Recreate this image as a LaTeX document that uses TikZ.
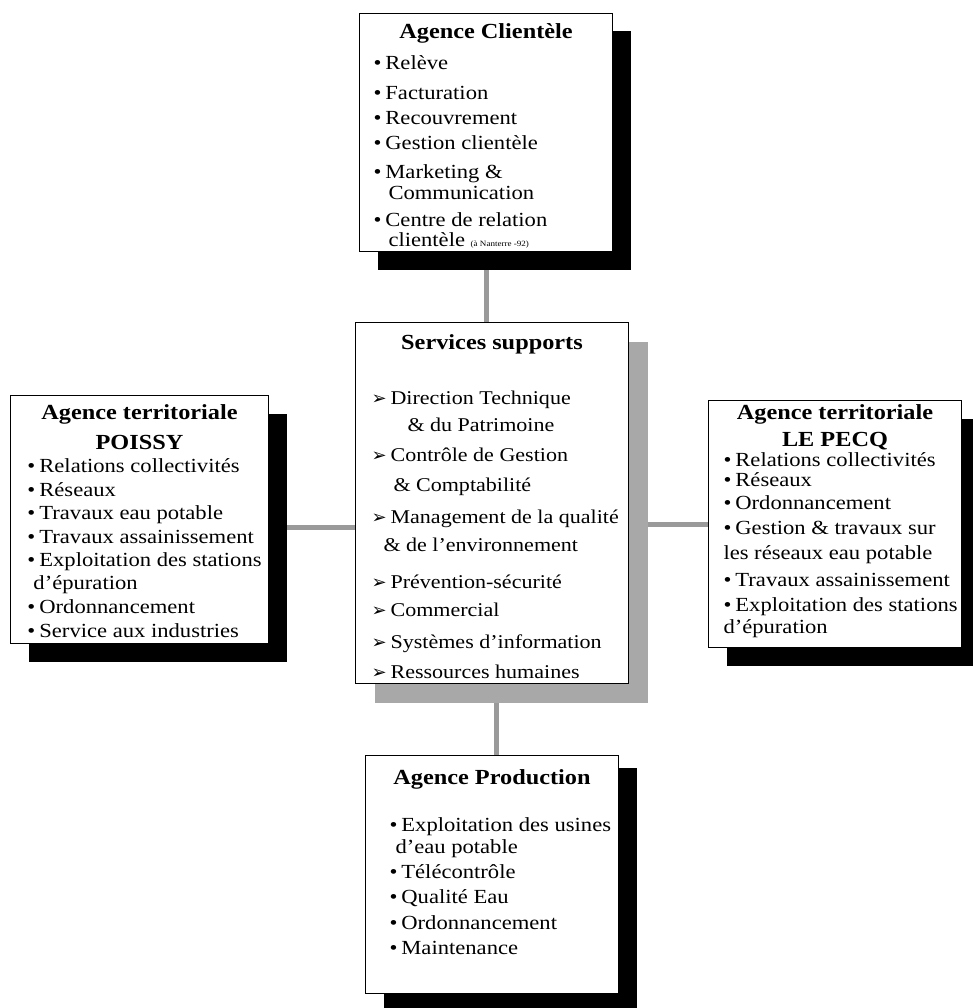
\documentclass[tikz,border=0pt]{standalone}
\usepackage{fontspec}
\setmainfont{Liberation Serif}[FakeStretch=1.13]
\newfontfamily\arrowfont{DejaVu Sans}
\usepackage{tikz}
\usetikzlibrary{shadows,backgrounds}
\definecolor{ombregris}{HTML}{A8A8A8}
\definecolor{liengris}{HTML}{9A9A9A}
\newcommand{\puce}{\textbullet\hspace{4pt}}
\newcommand{\fleche}{{\arrowfont\fontsize{18pt}{18pt}\selectfont ➢}\hspace{4pt}}
\newcommand{\titre}{\bfseries\fontsize{21.5pt}{24pt}\selectfont}

\begin{document}
\begin{tikzpicture}[x=1pt,y=1pt]
  \tikzset{
    agence/.style={draw=black,line width=1pt,fill=white,inner xsep=1pt,inner ysep=3pt,anchor=north west,
      drop shadow={shadow xshift=18pt,shadow yshift=-18pt,fill=black,opacity=1}},
    support/.style={draw=black,line width=1pt,fill=white,inner xsep=1pt,inner ysep=3pt,anchor=north west,
      drop shadow={shadow xshift=19pt,shadow yshift=-19pt,fill=ombregris,opacity=1}},
    lien/.style={draw=liengris,line width=5pt}
  }
  \useasboundingbox (0,0) rectangle (973,-1008);

  % agence clientele
  \node[agence] (clientele) at (359,-13) {\begin{minipage}[t][232pt][t]{251pt}
    \fontsize{20pt}{25pt}\selectfont\raggedright
    {\centering\titre\rule{0pt}{22pt}Agence Clientèle\par}
    \vspace{6pt}
    \hspace*{13pt}\puce Relève\\[5pt]
    \hspace*{13pt}\puce Facturation\\
    \hspace*{13pt}\puce Recouvrement\\
    \hspace*{13pt}\puce Gestion clientèle\\[4pt]
    \hspace*{13pt}\puce Marketing \&\\[-4pt]
    \hspace*{28pt}Communication\\[2pt]
    \hspace*{13pt}\puce Centre de relation\\[-5pt]
    \hspace*{28pt}clientèle {\fontsize{8pt}{8pt}\selectfont (à Nanterre -92)}
  \end{minipage}};

  % agence territoriale poissy
  \node[agence] (poissy) at (10,-395) {\begin{minipage}[t][242pt][t]{256pt}
    \fontsize{20pt}{23.5pt}\selectfont\raggedright
    {\centering\titre\rule{0pt}{21pt}Agence territoriale\\[5.5pt]POISSY\par}
    \hspace*{16pt}\puce Relations collectivités\\
    \hspace*{16pt}\puce Réseaux\\
    \hspace*{16pt}\puce Travaux eau potable\\
    \hspace*{16pt}\puce Travaux assainissement\\
    \hspace*{16pt}\puce Exploitation des stations\\[-1pt]
    \hspace*{22pt}d’épuration\\[1pt]
    \hspace*{16pt}\puce Ordonnancement\\
    \hspace*{16pt}\puce Service aux industries
  \end{minipage}};

  % services supports
  \node[support] (services) at (355,-322) {\begin{minipage}[t][355pt][t]{271pt}
    \fontsize{19.5pt}{30pt}\selectfont\raggedright
    {\centering\titre\rule{0pt}{24pt}Services supports\par}
    \vspace{25pt}
    \hspace*{15pt}\fleche Direction Technique\\[-3pt]
    \hspace*{51pt}\& du Patrimoine\\
    \hspace*{15pt}\fleche Contrôle de Gestion\\
    \hspace*{37pt}\& Comptabilité\\[2pt]
    \hspace*{15pt}\fleche Management de la qualité\\[-2pt]
    \hspace*{27pt}\& de l’environnement\\[7pt]
    \hspace*{15pt}\fleche Prévention-sécurité\\[-2pt]
    \hspace*{15pt}\fleche Commercial\\[2pt]
    \hspace*{15pt}\fleche Systèmes d’information\\
    \hspace*{15pt}\fleche Ressources humaines
  \end{minipage}};

  % agence territoriale le pecq
  \node[agence] (pecq) at (708,-400) {\begin{minipage}[t][241pt][t]{251pt}
    \fontsize{20pt}{24pt}\selectfont\raggedright
    {\centering\titre\rule{0pt}{16pt}Agence territoriale\\[3pt]LE PECQ\par}
    \vspace{-4pt}
    \hspace*{14pt}\puce Relations collectivités\\[-4pt]
    \hspace*{14pt}\puce Réseaux\\[-1pt]
    \hspace*{14pt}\puce Ordonnancement\\[1pt]
    \hspace*{14pt}\puce Gestion \& travaux sur\\[1pt]
    \hspace*{14pt}les réseaux eau potable\\[3pt]
    \hspace*{14pt}\puce Travaux assainissement\\[1pt]
    \hspace*{14pt}\puce Exploitation des stations\\[-2pt]
    \hspace*{14pt}d’épuration
  \end{minipage}};

  % agence production
  \node[agence,drop shadow={shadow xshift=18pt,shadow yshift=-12pt,fill=black,opacity=1}] (production) at (365,-755)
    {\begin{minipage}[t][232pt][t]{251pt}
    \fontsize{20pt}{25pt}\selectfont\raggedright
    {\centering\titre\rule{0pt}{26pt}Agence Production\par}
    \vspace{22pt}
    \hspace*{23pt}\puce Exploitation des usines\\[-3pt]
    \hspace*{29pt}d’eau potable\\
    \hspace*{23pt}\puce Télécontrôle\\
    \hspace*{23pt}\puce Qualité Eau\\[1pt]
    \hspace*{23pt}\puce Ordonnancement\\
    \hspace*{23pt}\puce Maintenance
  \end{minipage}};

  \begin{scope}[on background layer]
    \fill[white] (0,0) rectangle (973,-1008);
    \draw[lien] (clientele.south) -- (clientele.south |- services.north);
    \draw[lien] ([yshift=-8pt]poissy.east) -- ([yshift=-8pt]poissy.east -| services.west);
    \draw[lien] (pecq.west) -- (pecq.west -| services.east);
    \draw[lien] ([xshift=4pt]production.north) -- ([xshift=4pt]production.north |- services.south);
  \end{scope}
\end{tikzpicture}
\end{document}
